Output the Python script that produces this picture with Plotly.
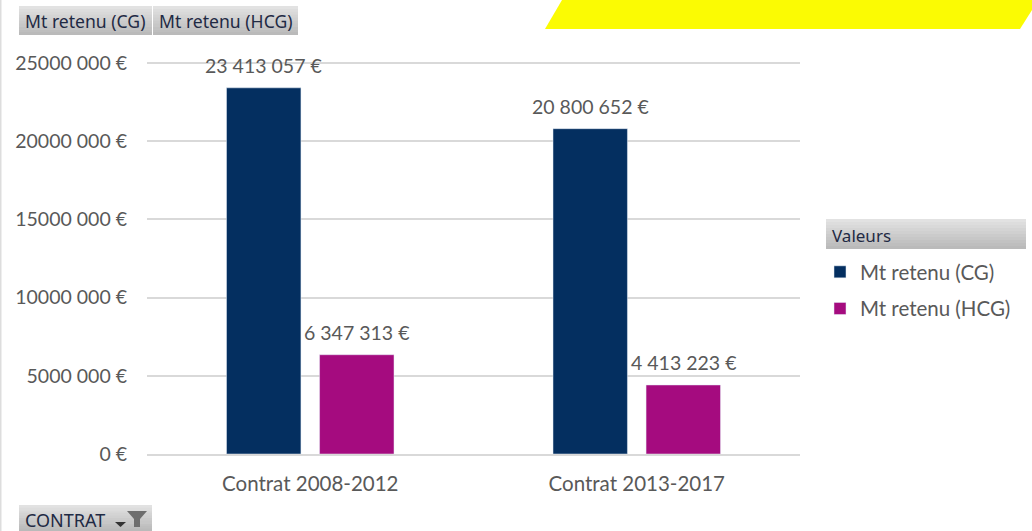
import plotly.graph_objects as go

categories = ["Contrat 2008-2012", "Contrat 2013-2017"]
series_names = ["Mt retenu (CG)", "Mt retenu (HCG)"]
values_cg = [23413057, 20800652]
values_hcg = [6347313, 4413223]
labels_cg = ["23 413 057 €", "20 800 652 €"]
labels_hcg = ["6 347 313 €", "4 413 223 €"]
tick_vals = [0, 5000000, 10000000, 15000000, 20000000, 25000000]
tick_text = ["0 €", "5000 000 €", "10000 000 €", "15000 000 €", "20000 000 €", "25000 000 €"]
y_max = 25000000 * 395 / 391

W, H = 1032, 531
L, R, T, B = 147, 800, 59, 454
FONT = "Lato"
GRAY = "#595959"
PX = lambda x: (x - L) / (R - L)
PY = lambda y: (B - y) / (B - T)

fig = go.Figure()
fig.add_bar(name=series_names[0], x=categories, y=values_cg, marker_color="#042F60", legendgroup="a")
fig.add_bar(name=series_names[1], x=categories, y=values_hcg, marker_color="#A50B7F", legendgroup="b")

shapes = []
def button(x0, y0, x1, y1, n=10):
    for i in range(n):
        c = int(226 - (226 - 186) * i / (n - 1))
        ya = y0 + (y1 - y0) * i / n
        yb = y0 + (y1 - y0) * (i + 1) / n + 0.5
        shapes.append(dict(type="rect", xref="paper", yref="paper", x0=PX(x0), x1=PX(x1), y0=PY(ya), y1=PY(min(yb, y1)),
                           fillcolor=f"rgb({c},{c},{c})", line_width=0, layer="below"))

button(19, 6, 152, 35)
button(153, 6, 298, 35)
button(826, 219, 1026, 249)
button(19, 505, 152, 531)

def path(points, color):
    d = "M " + " L ".join(f"{PX(x)} {PY(y)}" for x, y in points) + " Z"
    shapes.append(dict(type="path", xref="paper", yref="paper", path=d, fillcolor=color, line_width=0, layer="below"))

path([(562, 0), (1032, 0), (1032, 10), (1020, 29), (545, 29)], "#FBFB03")
path([(0, 0), (1.5, 0), (1.5, 531), (0, 531)], "#DDDDDD")
path([(127, 511), (147, 511), (140, 519), (140, 527), (134, 527), (134, 519)], "#6E6E6E")
path([(115, 522), (126, 522), (120.5, 527)], "#333333")

ann = []
for vals, labs, shift in ((values_cg, labels_cg, -46.5), (values_hcg, labels_hcg, 46.5)):
    for c, v, t in zip(categories, vals, labs):
        ann.append(dict(x=c, y=v, text=t, xref="x", yref="y", showarrow=False, xshift=shift, yshift=22, yanchor="middle",
                        font=dict(family=FONT, size=19.5, color=GRAY)))

def label(x, y, text, size=17.6):
    ann.append(dict(x=PX(x), y=PY(y), text=text, xref="paper", yref="paper", xanchor="left", yanchor="middle", showarrow=False,
                    font=dict(family="Noto Sans", size=size, color="#1F2A44")))

label(23, 21, series_names[0])
label(157, 21, series_names[1])
label(830, 235, "Valeurs", 17)
label(23, 520, "CONTRAT", 18)

fig.update_layout(
    width=W, height=H, autosize=False, barmode="group", bargap=0.43, bargroupgap=0.2,
    margin=dict(l=L, r=W - R, t=T, b=H - B, pad=0),
    paper_bgcolor="white", plot_bgcolor="white",
    font=dict(family=FONT, size=19.5, color=GRAY),
    shapes=shapes, annotations=ann,
    legend=dict(x=PX(820), y=PY(252), xanchor="left", yanchor="top", tracegroupgap=7,
                font=dict(family=FONT, size=20.5, color=GRAY), bgcolor="rgba(0,0,0,0)", traceorder="grouped"),
    showlegend=True,
)
fig.update_xaxes(showgrid=False, showline=True, linecolor="#D9D9D9", linewidth=2, ticks="", ticklabelstandoff=10,
                 tickfont=dict(family=FONT, size=20.5, color=GRAY))
fig.update_yaxes(range=[0, y_max], tickvals=tick_vals, ticktext=tick_text, showgrid=True, gridcolor="#D9D9D9", gridwidth=1.5,
                 zeroline=False, ticks="", ticklabelstandoff=19)

fig.write_html("out.html", config={"displayModeBar": False},
               post_script="document.body.style.margin='0';document.body.style.overflow='hidden';")
